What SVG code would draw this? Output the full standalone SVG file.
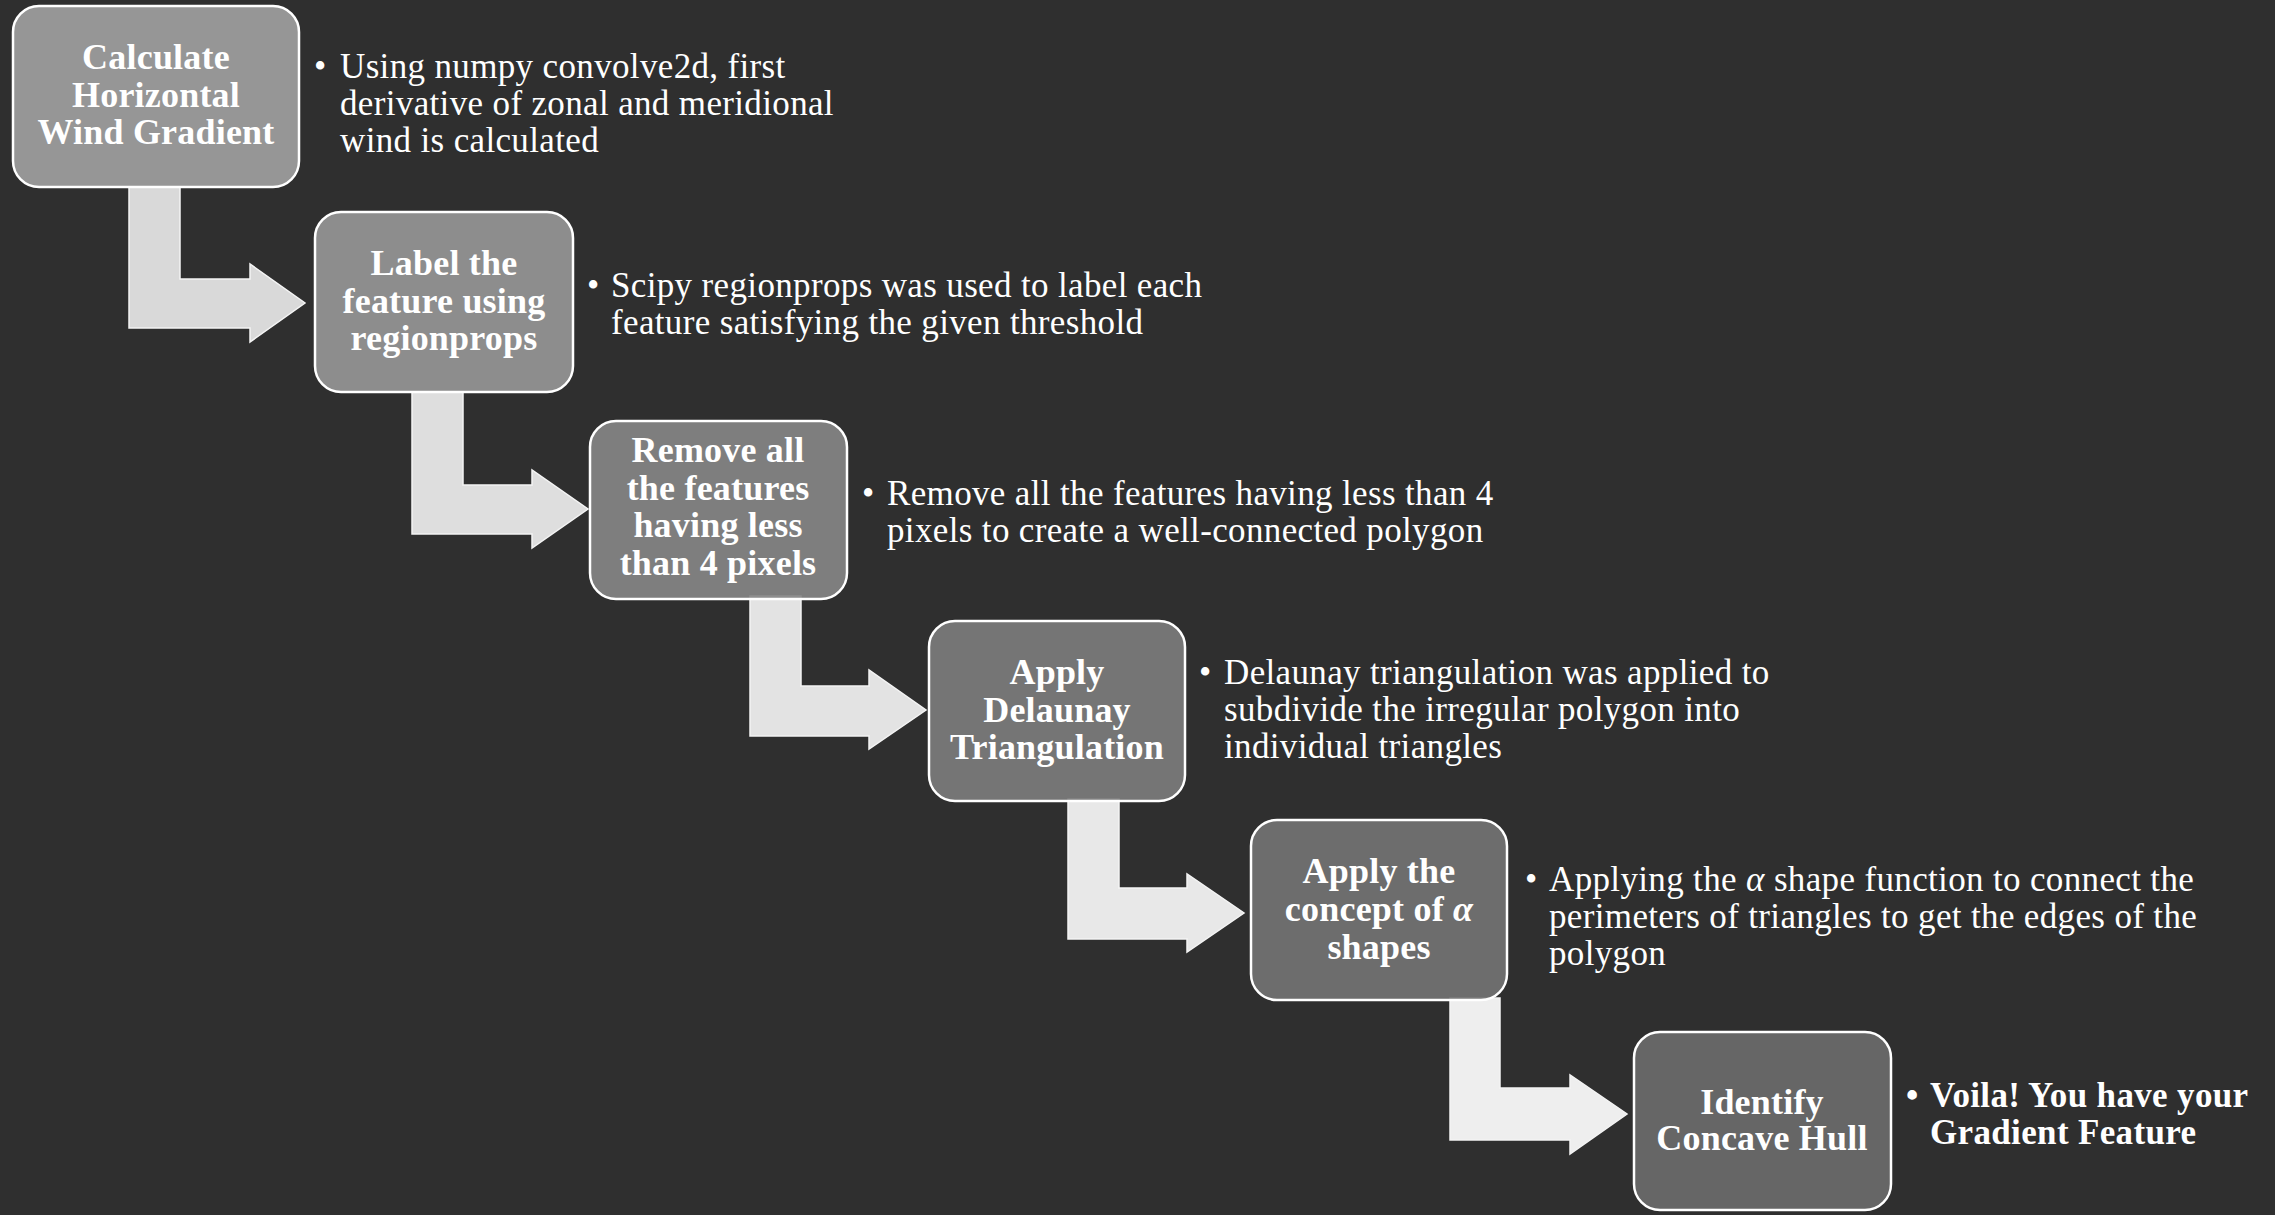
<svg xmlns="http://www.w3.org/2000/svg" width="2275" height="1215" viewBox="0 0 2275 1215">
<style>
.bg{fill:#2f2f2f}
.node rect{stroke:#ffffff;stroke-width:2.5}
.nt{font-family:"Liberation Serif","DejaVu Serif",serif;font-weight:bold;font-size:36px;letter-spacing:0.2px;fill:#ffffff;text-anchor:middle}
.bt{font-family:"Liberation Serif","DejaVu Serif",serif;font-size:35px;letter-spacing:0.35px;fill:#ffffff}
.bb{font-weight:bold}
.al{font-style:italic}
.arrow{stroke:#f4f4f4;stroke-width:1.5}
</style>
<rect class="bg" x="0" y="0" width="2275" height="1215"/>
<g id="connectors">
<path class="arrow" fill="#d9d9d9" d="M129,187 L180,187 L180,279 L250,279 L250,264 L305,303 L250,342 L250,328 L129,328 Z"/>
<path class="arrow" fill="#dedede" d="M412,392 L463,392 L463,485 L532,485 L532,470 L588,509 L532,548 L532,534 L412,534 Z"/>
<path class="arrow" fill="#e3e3e3" d="M750,596 L801,596 L801,686 L869,686 L869,670 L926,710 L869,749 L869,736 L750,736 Z"/>
<path class="arrow" fill="#e8e8e8" d="M1068,799 L1119,799 L1119,888 L1187,888 L1187,874 L1244,913 L1187,952 L1187,939 L1068,939 Z"/>
<path class="arrow" fill="#eeeeee" d="M1450,998 L1500,998 L1500,1088 L1570,1088 L1570,1075 L1627,1114 L1570,1154 L1570,1140 L1450,1140 Z"/>
</g>
<g id="node1" class="node">
<rect x="13" y="6" width="286" height="181" rx="26" fill="#969696"/>
<text class="nt" x="156" y="69">Calculate</text>
<text class="nt" x="156" y="107">Horizontal</text>
<text class="nt" x="156" y="144">Wind Gradient</text>
</g>
<g id="desc1">
<text class="bt" x="314" y="78">•</text>
<text class="bt" x="340" y="78">Using numpy convolve2d, first</text>
<text class="bt" x="340" y="115">derivative of  zonal and meridional</text>
<text class="bt" x="340" y="152">wind is calculated</text>
</g>
<g id="node2" class="node">
<rect x="315" y="212" width="258" height="180" rx="26" fill="#8d8d8d"/>
<text class="nt" x="444" y="275">Label the</text>
<text class="nt" x="444" y="313">feature using</text>
<text class="nt" x="444" y="350">regionprops</text>
</g>
<g id="desc2">
<text class="bt" x="587" y="297">•</text>
<text class="bt" x="611" y="297">Scipy regionprops was used to label each</text>
<text class="bt" x="611" y="334">feature satisfying the given threshold</text>
</g>
<g id="node3" class="node">
<rect x="590" y="421" width="257" height="178" rx="26" fill="#858585" fill-opacity="0.92"/>
<text class="nt" x="718" y="462">Remove all</text>
<text class="nt" x="718" y="500">the features</text>
<text class="nt" x="718" y="537">having less</text>
<text class="nt" x="718" y="575">than 4 pixels</text>
</g>
<g id="desc3">
<text class="bt" x="862" y="505">•</text>
<text class="bt" x="887" y="505">Remove all the features having less than 4</text>
<text class="bt" x="887" y="542">pixels to create a well-connected polygon</text>
</g>
<g id="node4" class="node">
<rect x="929" y="621" width="256" height="180" rx="26" fill="#7c7c7c" fill-opacity="0.92"/>
<text class="nt" x="1057" y="684">Apply</text>
<text class="nt" x="1057" y="722">Delaunay</text>
<text class="nt" x="1057" y="759">Triangulation</text>
</g>
<g id="desc4">
<text class="bt" x="1199" y="684">•</text>
<text class="bt" x="1224" y="684">Delaunay triangulation was applied to</text>
<text class="bt" x="1224" y="721">subdivide the irregular polygon into</text>
<text class="bt" x="1224" y="758">individual triangles</text>
</g>
<g id="node5" class="node">
<rect x="1251" y="820" width="256" height="180" rx="26" fill="#737373" fill-opacity="0.92"/>
<text class="nt" x="1379" y="883">Apply the</text>
<text class="nt" x="1379" y="921">concept of <tspan class="al">α</tspan></text>
<text class="nt" x="1379" y="959">shapes</text>
</g>
<g id="desc5">
<text class="bt" x="1525" y="891">•</text>
<text class="bt" x="1549" y="891">Applying the <tspan class="al">α</tspan> shape function to connect the</text>
<text class="bt" x="1549" y="928">perimeters of  triangles to get the edges of  the</text>
<text class="bt" x="1549" y="965">polygon</text>
</g>
<g id="node6" class="node">
<rect x="1634" y="1032" width="257" height="178" rx="26" fill="#6b6b6b" fill-opacity="0.92"/>
<text class="nt" x="1762" y="1114">Identify</text>
<text class="nt" x="1762" y="1150">Concave Hull</text>
</g>
<g id="desc6">
<text class="bt bb" x="1906" y="1107">•</text>
<text class="bt bb" x="1930" y="1107">Voila! You have your</text>
<text class="bt bb" x="1930" y="1144">Gradient Feature</text>
</g>
</svg>
